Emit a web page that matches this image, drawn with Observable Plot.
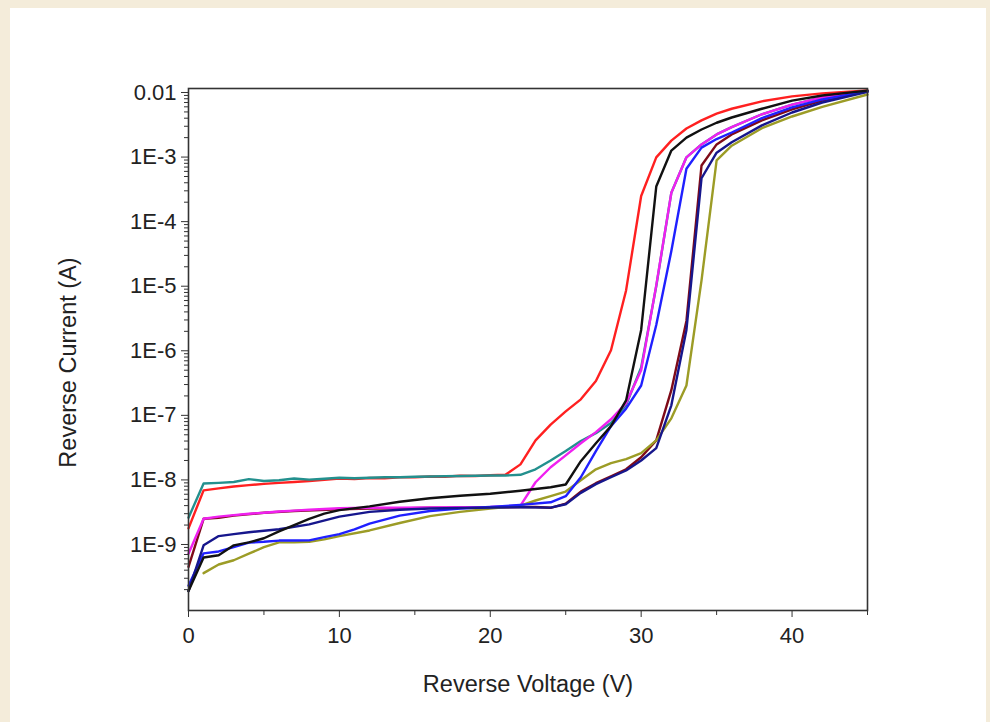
<!DOCTYPE html>
<html><head><meta charset="utf-8">
<script src="https://cdn.jsdelivr.net/npm/d3@7"></script>
<script src="https://cdn.jsdelivr.net/npm/@observablehq/plot@0.6"></script>
<style>
html,body{margin:0;padding:0;background:#f4ecda;width:990px;height:722px;overflow:hidden}
#panel{position:absolute;left:10px;top:8px;width:976px;height:714px;background:#fff}
#chart{position:absolute;left:0;top:0}
</style></head><body><div id="panel"></div><div id="chart"></div>
<script>
// [voltage (V), current (A)]
const red = [[0,1.78e-9],[1,6.9e-9],[2,7.4e-9],[3,7.9e-9],[4,8.3e-9],[5,8.7e-9],[6,9.0e-9],[7,9.3e-9],[8,9.6e-9],[9,1.0e-8],[10,1.05e-8],[11,1.03e-8],[12,1.07e-8],[13,1.06e-8],[14,1.1e-8],[15,1.1e-8],[16,1.13e-8],[17,1.12e-8],[18,1.16e-8],[19,1.15e-8],[20,1.18e-8],[21,1.2e-8],[22,1.74e-8],[23,4.1e-8],[24,7.2e-8],[25,1.15e-7],[26,1.77e-7],[27,3.4e-7],[28,1.02e-6],[29,8.6e-6],[30,2.5e-4],[31,9.9e-4],[32,1.8e-3],[33,2.77e-3],[34,3.7e-3],[35,4.7e-3],[36,5.6e-3],[38,7.3e-3],[40,8.7e-3],[42,9.7e-3],[45,0.0108]];
const teal = [[0,2.6e-9],[1,8.8e-9],[2,9.0e-9],[3,9.3e-9],[4,1.03e-8],[5,9.6e-9],[6,9.9e-9],[7,1.05e-8],[8,1.01e-8],[9,1.04e-8],[10,1.08e-8],[11,1.06e-8],[12,1.08e-8],[13,1.1e-8],[14,1.1e-8],[15,1.12e-8],[16,1.13e-8],[17,1.14e-8],[18,1.15e-8],[19,1.16e-8],[20,1.17e-8],[21,1.17e-8],[22,1.2e-8],[23,1.46e-8],[24,2.0e-8],[25,2.8e-8],[26,4.0e-8],[27,5.3e-8],[28,7.6e-8],[29,1.45e-7],[30,5.5e-7],[31,1.0e-5],[32,2.8e-4],[33,9.9e-4],[34,1.57e-3],[35,2.24e-3],[36,2.9e-3],[38,4.6e-3],[40,6.5e-3],[42,8.4e-3],[45,0.0106]];
const black = [[0,1.9e-10],[1,6.3e-10],[2,6.8e-10],[3,9.7e-10],[4,1.08e-9],[5,1.25e-9],[6,1.6e-9],[7,2.0e-9],[8,2.5e-9],[9,3.0e-9],[10,3.4e-9],[12,3.9e-9],[14,4.6e-9],[16,5.2e-9],[18,5.7e-9],[20,6.1e-9],[22,6.8e-9],[24,7.7e-9],[25,8.5e-9],[26,1.95e-8],[27,3.7e-8],[28,6.8e-8],[29,1.7e-7],[30,2.1e-6],[31,3.5e-4],[32,1.26e-3],[33,2.0e-3],[34,2.67e-3],[35,3.4e-3],[36,4.1e-3],[38,5.6e-3],[40,7.5e-3],[42,9.0e-3],[45,0.0107]];
const magenta = [[0,7.2e-10],[1,2.5e-9],[2,2.7e-9],[3,2.85e-9],[4,3.0e-9],[5,3.1e-9],[6,3.25e-9],[7,3.35e-9],[8,3.45e-9],[10,3.65e-9],[12,3.7e-9],[14,3.72e-9],[16,3.75e-9],[18,3.78e-9],[20,3.8e-9],[22,4.0e-9],[23,9.2e-9],[24,1.57e-8],[25,2.4e-8],[26,3.7e-8],[27,5.5e-8],[28,8.7e-8],[29,1.55e-7],[30,5.0e-7],[31,1.03e-5],[32,2.8e-4],[33,9.9e-4],[34,1.57e-3],[35,2.24e-3],[36,2.9e-3],[38,4.6e-3],[40,6.5e-3],[42,8.4e-3],[45,0.0105]];
const blue = [[0,2.3e-10],[1,7.3e-10],[2,7.8e-10],[3,9.1e-10],[4,1.07e-9],[5,1.1e-9],[6,1.15e-9],[7,1.15e-9],[8,1.16e-9],[9,1.3e-9],[10,1.45e-9],[11,1.72e-9],[12,2.1e-9],[14,2.8e-9],[16,3.3e-9],[18,3.6e-9],[20,3.8e-9],[22,4.1e-9],[24,4.5e-9],[25,5.6e-9],[26,1.1e-8],[27,2.8e-8],[28,6.8e-8],[29,1.27e-7],[30,2.9e-7],[31,2.5e-6],[32,3.5e-5],[33,6.6e-4],[34,1.4e-3],[35,1.9e-3],[36,2.4e-3],[38,4.0e-3],[40,5.9e-3],[42,7.8e-3],[45,0.0104]];
const maroon = [[0,4.5e-10],[1,2.5e-9],[2,2.6e-9],[3,2.8e-9],[5,3.1e-9],[7,3.3e-9],[10,3.5e-9],[12,3.6e-9],[14,3.62e-9],[16,3.7e-9],[18,3.72e-9],[20,3.75e-9],[22,3.8e-9],[23,3.8e-9],[24,3.7e-9],[25,4.3e-9],[26,6.6e-9],[27,8.9e-9],[28,1.14e-8],[29,1.46e-8],[30,2.24e-8],[31,4.1e-8],[32,2.45e-7],[33,2.9e-6],[34,7.4e-4],[35,1.57e-3],[36,2.24e-3],[38,3.7e-3],[40,5.5e-3],[42,7.5e-3],[45,0.0104]];
const navy = [[0,1.9e-10],[1,9.7e-10],[2,1.35e-9],[3,1.45e-9],[4,1.55e-9],[6,1.72e-9],[8,2.05e-9],[10,2.7e-9],[12,3.2e-9],[14,3.45e-9],[16,3.6e-9],[18,3.68e-9],[20,3.72e-9],[22,3.78e-9],[24,3.72e-9],[25,4.2e-9],[26,6.3e-9],[27,8.6e-9],[28,1.1e-8],[29,1.4e-8],[30,2.0e-8],[31,3.1e-8],[32,1.43e-7],[33,2.1e-6],[34,4.7e-4],[35,1.17e-3],[36,1.7e-3],[38,3.1e-3],[40,4.9e-3],[42,7.0e-3],[45,0.0102]];
const olive = [[1,3.6e-10],[2,4.9e-10],[3,5.7e-10],[4,7.2e-10],[5,9.1e-10],[6,1.08e-9],[7,1.08e-9],[8,1.1e-9],[9,1.2e-9],[10,1.35e-9],[12,1.65e-9],[14,2.15e-9],[16,2.75e-9],[18,3.2e-9],[20,3.6e-9],[22,4.0e-9],[23,4.8e-9],[24,5.6e-9],[25,6.6e-9],[26,9.9e-9],[27,1.46e-8],[28,1.82e-8],[29,2.1e-8],[30,2.6e-8],[31,4.1e-8],[32,9e-8],[33,2.9e-7],[34,1.23e-5],[35,8.9e-4],[36,1.5e-3],[38,2.8e-3],[40,4.25e-3],[42,6.0e-3],[45,0.0093]];

const seriesOrder = [
  {data: red, color: "#ff2020"},
  {data: teal, color: "#23908e"},
  {data: maroon, color: "#7e0a18"},
  {data: magenta, color: "#f020f0"},
  {data: olive, color: "#9c9c26"},
  {data: blue, color: "#2020ff"},
  {data: navy, color: "#16168c"},
  {data: black, color: "#111111"}
];

const xMajor = [0, 10, 20, 30, 40];
const xMinor = [5, 15, 25, 35, 45];
const yMajor = [1e-2, 1e-3, 1e-4, 1e-5, 1e-6, 1e-7, 1e-8, 1e-9];
const yLabels = ["0.01", "1E-3", "1E-4", "1E-5", "1E-6", "1E-7", "1E-8", "1E-9"];
const xTitle = "Reverse Voltage (V)";
const yTitle = "Reverse Current (A)";
const yMinor = [];
for (let e = -10; e <= -3; e++) for (let m = 2; m <= 9; m++) { const v = m * Math.pow(10, e); if (v > 9.5e-11 && v < 1e-2) yMinor.push(v); }

const chart = Plot.plot({
  width: 990,
  height: 722,
  marginLeft: 188,
  marginRight: 123,
  marginTop: 88,
  marginBottom: 112,
  style: {fontFamily: "'Liberation Sans', Arial, sans-serif", fontSize: "22px", color: "#222", background: "transparent", overflow: "visible"},
  x: {domain: [0, 45]},
  y: {type: "log", domain: [9.5e-11, 0.01153]},
  marks: [
    ...seriesOrder.map(s => Plot.line(s.data, {x: d => d[0], y: d => d[1], stroke: s.color, strokeWidth: 2.4})),
    Plot.frame({stroke: "#333", strokeWidth: 1.6}),
    Plot.axisX({ticks: xMajor, tickSize: 7, tickPadding: 10, tickFormat: d => String(d), fontSize: 22, label: null, stroke: "#333"}),
    Plot.axisX({ticks: xMinor, tickSize: 5, tickFormat: () => "", label: null, stroke: "#333"}),
    Plot.axisY({ticks: yMajor, tickSize: 7, tickPadding: 5, tickFormat: d => yLabels[yMajor.indexOf(d)], fontSize: 22, label: null, stroke: "#333"}),
    Plot.axisY({ticks: yMinor, tickSize: 4, tickFormat: () => "", label: null, stroke: "#333"}),
    Plot.text([xTitle], {text: d => d, frameAnchor: "bottom", textAnchor: "middle", lineAnchor: "middle", dy: 74, fontSize: 23.5, fill: "#222"}),
    Plot.text([yTitle], {text: d => d, frameAnchor: "left", textAnchor: "middle", lineAnchor: "middle", dx: -120, dy: 13, rotate: -90, fontSize: 23.5, fill: "#222"})
  ]
});
document.getElementById("chart").appendChild(chart);
</script></body></html>
